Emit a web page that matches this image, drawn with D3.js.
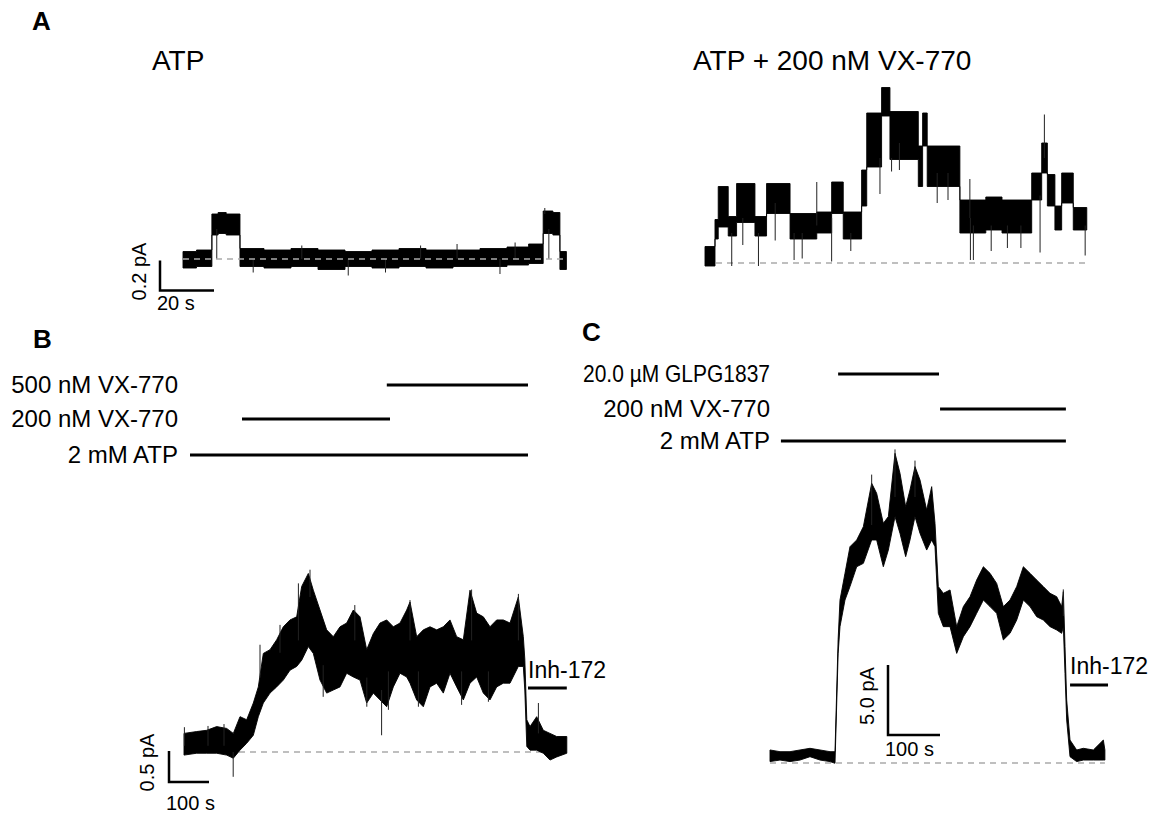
<!DOCTYPE html>
<html lang="en">
<head>
<meta charset="UTF-8">
<title>Single channel and macroscopic CFTR traces</title>
<script src="https://cdn.jsdelivr.net/npm/d3@7/dist/d3.min.js"></script>
<style>
  body { margin: 0; background: #fff; }
  text { font-family: "Liberation Sans", Arial, sans-serif; fill: #000; }
</style>
</head>
<body>
<svg id="fig" width="1162" height="815"></svg>
<script>

// ---- data: [time (s), low (pA), high (pA)] envelopes ----

// A, ATP alone
var atpTrace = [
  [0, -0.06, 0.05], [5, -0.05, 0.06], [10.7, 0.16, 0.30], [13, 0.17, 0.31], [16, 0.16, 0.30],
  [21.1, -0.05, 0.07], [30, -0.06, 0.06], [40, -0.05, 0.07], [50, -0.07, 0.06], [60, -0.05, 0.05],
  [70, -0.06, 0.06], [80, -0.05, 0.07], [90, -0.06, 0.06], [100, -0.05, 0.06], [110, -0.05, 0.07],
  [120, -0.04, 0.08], [128, -0.03, 0.10], [133.4, 0.17, 0.32], [137, 0.16, 0.31],
  [139.6, -0.07, 0.05], [142, -0.07, 0.05]
];
var atpSpikes = [[12.5, 0.2, 0.0], [44, 0.0, 0.09], [61.2, 0.0, -0.11], [101.5, 0.0, 0.10],
  [117.4, 0.0, -0.10], [135.5, 0.2, 0.0], [134, 0.3, 0.34], [26, 0.0, -0.09], [75, 0.0, -0.09],
  [88, 0.0, 0.09], [123, 0.0, 0.11]];

// A, ATP + 200 nM VX-770
var vxTrace = [
  [0, -0.02, 0.11], [3.7, 0.16, 0.29], [4.9, 0.24, 0.51], [8.6, 0.18, 0.31], [11.7, 0.27, 0.53],
  [18.5, 0.18, 0.31], [22.8, 0.33, 0.53], [31.5, 0.16, 0.33], [41.4, 0.20, 0.34], [46.9, 0.33, 0.54],
  [51.2, 0.16, 0.34], [58.0, 0.38, 0.62], [59.9, 0.64, 1.00], [65.4, 0.98, 1.17], [68.5, 0.69, 1.01],
  [79.0, 0.51, 0.78], [80.6, 0.78, 1.00], [82.3, 0.51, 0.78], [94.4, 0.20, 0.42], [104, 0.22, 0.44],
  [110, 0.20, 0.42], [121, 0.42, 0.60], [124.7, 0.60, 0.80], [126.8, 0.38, 0.59], [129.6, 0.22, 0.38],
  [132.1, 0.40, 0.60], [136.4, 0.22, 0.37], [141.4, 0.22, 0.37]
];
var vxSpikes = [[9.9, 0.2, -0.02], [19.8, 0.2, -0.02], [33, 0.2, 0.02], [41.4, 0.25, 0.54],
  [46.9, 0.3, 0.01], [64.8, 0.7, 0.46], [69.1, 0.7, 0.61], [72, 0.8, 0.62], [98.1, 0.3, 0.56],
  [98.3, 0.3, 0.02], [99.4, 0.25, 0.02], [106, 0.25, 0.08], [124.1, 0.45, 0.07],
  [125.7, 0.7, 0.99], [140.8, 0.25, 0.05], [14, 0.3, 0.12], [26, 0.4, 0.15], [36, 0.2, 0.03],
  [54, 0.2, 0.08], [86, 0.6, 0.40], [90, 0.6, 0.42], [112, 0.25, 0.10], [117, 0.25, 0.10]];

// B, 200 / 500 nM VX-770
var bTrace = [
  [0, -0.05, 0.30], [31.7, -0.02, 0.33], [56.7, -0.02, 0.35], [81.7, -0.02, 0.41], [106.7, -0.05, 0.38],
  [123.3, -0.10, 0.30], [140, 0.03, 0.57], [156.7, 0.14, 0.52], [173.3, 0.27, 0.79], [185.8, 0.57, 1.05],
  [198.3, 0.79, 1.59], [215, 0.95, 1.65], [231.7, 1.05, 1.81], [248.3, 1.16, 2.02], [265, 1.32, 2.13],
  [281.7, 1.38, 2.18], [294.2, 1.48, 2.67], [310.8, 1.70, 2.88], [323.3, 1.59, 2.61], [340, 1.16, 2.29],
  [356.7, 0.95, 1.97], [373.3, 1.00, 1.86], [390, 1.05, 2.02], [406.7, 1.27, 2.08], [423.3, 1.21, 2.29],
  [440, 1.16, 2.18], [456.7, 0.79, 1.65], [473.3, 0.95, 1.91], [490, 0.84, 2.08], [506.7, 0.73, 2.13],
  [523.3, 1.05, 2.02], [540, 1.27, 2.08], [556.7, 1.21, 2.29], [565, 1.11, 2.42], [581.7, 0.84, 1.86],
  [598.3, 0.73, 1.97], [615, 1.05, 2.02], [631.7, 1.11, 1.97], [648.3, 0.95, 2.02], [665, 1.27, 2.13],
  [681.7, 1.05, 1.86], [698.3, 0.84, 1.81], [715, 1.11, 2.61], [731.7, 1.21, 2.24], [748.3, 0.95, 2.18],
  [765, 0.84, 2.02], [781.7, 1.05, 2.13], [798.3, 1.11, 2.13], [815, 1.11, 2.08], [835.8, 1.38, 2.50],
  [848.3, 1.38, 1.86], [852, 1.00, 1.50], [857, 0.09, 0.52], [865, 0.03, 0.41], [881.7, 0.03, 0.57],
  [898.3, -0.02, 0.35], [915, -0.13, 0.30], [931.7, -0.08, 0.25], [957, -0.02, 0.25]
];
var bSpikes = [[123, 0.0, -0.40], [315, 2.5, 2.94], [494, 1.0, 0.27], [886, 0.3, 0.79], [1, 0.1, 0.40],
  [190, 1.2, 1.73], [240, 1.6, 2.05], [286, 1.8, 2.72], [427, 1.8, 2.37], [565, 1.8, 2.45],
  [719, 1.8, 2.62], [836, 1.8, 2.55], [348, 1.4, 0.89], [457, 1.2, 0.73], [511, 1.3, 0.68],
  [586, 1.3, 0.73], [694, 1.3, 0.76], [761, 1.3, 0.81], [60, 0.1, 0.42], [100, 0.1, 0.45]];

// C, GLPG1837 then VX-770
var cTrace = [
  [0, 0.10, 0.93], [19.2, 0.21, 0.81], [38.5, 0.10, 0.81], [57.7, 0.21, 0.93], [76.9, 0.45, 1.05],
  [96.2, 0.21, 0.93], [115.4, 0.10, 0.81], [125, -0.02, 0.81], [131, 7.8, 8.8], [134.6, 9.74, 11.64],
  [144.2, 11.64, 13.55], [153.8, 12.6, 15.45], [166.7, 14.02, 15.93], [179.5, 14.26, 16.88],
  [195.5, 15.93, 19.98], [205.1, 15.93, 19.26], [217.9, 14.02, 17.12], [227.6, 15.21, 17.6],
  [240.4, 17.6, 22.12], [250, 16.4, 20.69], [260.9, 14.74, 18.31], [269.2, 15.93, 19.5],
  [278.8, 17.6, 21.17], [288.5, 16.4, 20.21], [301.3, 15.21, 18.07], [310.9, 15.93, 19.74],
  [317.3, 15.45, 17.12], [323.7, 10.69, 12.6], [333.3, 9.74, 12.12], [346.2, 9.74, 12.36],
  [359, 7.83, 9.74], [371.8, 9.02, 11.17], [384.6, 9.74, 11.88], [397.4, 10.69, 13.07],
  [410.3, 11.64, 14.02], [423.1, 11.17, 13.55], [435.9, 10.69, 12.83], [448.7, 8.79, 11.17],
  [461.5, 9.26, 11.64], [474.4, 10.21, 12.6], [487.2, 11.64, 14.02], [500, 11.17, 13.55],
  [512.8, 10.45, 13.07], [525.6, 10.21, 12.6], [538.5, 9.74, 12.12], [551.3, 9.5, 11.88],
  [560.9, 9.26, 11.17], [564.1, 9.74, 12.24], [567.3, 6.4, 8.31], [570.5, 3.07, 4.5],
  [576.9, 0.45, 1.64], [589.7, 0.10, 0.93], [602.6, 0.21, 1.05], [621.8, 0.21, 0.93],
  [641, 0.21, 1.64], [644, 0.21, 0.93]
];
var cSpikes = [[564, 10.5, 12.4], [240.4, 19, 22.4], [195.5, 17, 20.6], [278.8, 19, 21.6]];

// drug application bars: label, start (s), end (s)
var bBars = [
  { label: "500 nM VX-770", start: 507, end: 860 },
  { label: "200 nM VX-770", start: 145, end: 515 },
  { label: "2 mM ATP", start: 15, end: 860 }
];
var cBars = [
  { label: "20.0 \u00b5M GLPG1837", start: 131, end: 325 },
  { label: "200 nM VX-770", start: 327, end: 569 },
  { label: "2 mM ATP", start: 21, end: 569 }
];
var bInh = { label: "Inh-172", start: 860, end: 957 };
var cInh = { label: "Inh-172", start: 577, end: 650 };

// ---- scales ----
var xA1 = d3.scaleLinear().domain([0, 142]).range([183, 566.4]);
var xA2 = d3.scaleLinear().domain([0, 142]).range([705, 1088.4]);
var yA1 = d3.scaleLinear().domain([0, 0.2]).range([259, 229]);
var yA2 = d3.scaleLinear().domain([0, 0.2]).range([263, 233]);
var xB = d3.scaleLinear().domain([0, 957.5]).range([184, 567]);
var yB = d3.scaleLinear().domain([0, 0.5]).range([752, 721]);
var xC = d3.scaleLinear().domain([0, 644]).range([770, 1104.9]);
var yC = d3.scaleLinear().domain([0, 5]).range([763, 693]);

var svg = d3.select("#fig");

function dashed(g, x, y) {
  g.append("line")
    .attr("x1", x.range()[0]).attr("x2", x.range()[1])
    .attr("y1", y(0)).attr("y2", y(0))
    .attr("stroke", "#aaa").attr("stroke-width", 1.3)
    .attr("stroke-dasharray", "6,5");
}

function drawTrace(data, spikes, x, y, step, dashOnTop) {
  var g = svg.append("g");
  if (!dashOnTop) dashed(g, x, y);
  var area = d3.area()
    .x(function(d) { return x(d[0]); })
    .y0(function(d) { return y(d[1]); })
    .y1(function(d) { return y(d[2]); });
  if (step) area.curve(d3.curveStepAfter);
  g.append("path").datum(data)
    .attr("d", area)
    .attr("fill", "#000").attr("stroke", "#000")
    .attr("stroke-width", 0.9).attr("stroke-linejoin", "round");
  g.selectAll(".spike").data(spikes).enter().append("line")
    .attr("x1", function(d) { return x(d[0]); })
    .attr("x2", function(d) { return x(d[0]); })
    .attr("y1", function(d) { return y(d[1]); })
    .attr("y2", function(d) { return y(d[2]); })
    .attr("stroke", "#222").attr("stroke-width", 1);
  if (dashOnTop) dashed(g, x, y);
}

drawTrace(atpTrace, atpSpikes, xA1, yA1, true, true);
drawTrace(vxTrace, vxSpikes, xA2, yA2, true, false);
drawTrace(bTrace, bSpikes, xB, yB, false, false);
drawTrace(cTrace, cSpikes, xC, yC, false, false);

// scale bars: corner position, lengths from the scales
function scaleBar(cx, cy, x, y, dt, di, tLabel, iLabel, iLabelX, tLabelY) {
  var g = svg.append("g");
  var w = x(dt) - x(0), h = y(0) - y(di);
  g.append("path")
    .attr("d", "M" + cx + "," + (cy - h) + "V" + cy + "H" + (cx + w))
    .attr("fill", "none").attr("stroke", "#000").attr("stroke-width", 2.5);
  g.append("text").attr("x", cx - 3).attr("y", tLabelY)
    .attr("font-size", 20).text(tLabel);
  g.append("text")
    .attr("transform", "translate(" + iLabelX + "," + (cy - h / 2 - 4) + ") rotate(-90)")
    .attr("text-anchor", "middle").attr("font-size", 20).text(iLabel);
}
scaleBar(160, 290.5, xA1, yA1, 20, 0.2, "20 s", "0.2 pA", 146, 310);
scaleBar(169, 782, xB, yB, 100, 0.5, "100 s", "0.5 pA", 154, 810);
scaleBar(888, 735, xC, yC, 100, 5, "100 s", "5.0 pA", 874, 756);

// drug bars; labels that would run past the panel's left edge are squeezed
function drugBars(bars, x, rows, labelX, leftEdge) {
  var g = svg.append("g");
  g.selectAll("line").data(bars).enter().append("line")
    .attr("x1", function(d) { return x(d.start); })
    .attr("x2", function(d) { return x(d.end); })
    .attr("y1", function(d, i) { return rows[i]; })
    .attr("y2", function(d, i) { return rows[i]; })
    .attr("stroke", "#000").attr("stroke-width", 3);
  g.selectAll("text").data(bars).enter().append("text")
    .attr("x", labelX)
    .attr("y", function(d, i) { return rows[i] + 8; })
    .attr("text-anchor", "end").attr("font-size", 24)
    .text(function(d) { return d.label; })
    .each(function() {
      var room = labelX - leftEdge;
      if (this.getComputedTextLength() > room) {
        d3.select(this).attr("textLength", room).attr("lengthAdjust", "spacingAndGlyphs");
      }
    });
}
drugBars(bBars, xB, [385, 419, 455], 178, 10);
drugBars(cBars, xC, [374, 409, 441], 770, 583);

function inhBar(d, x, lineY, textY) {
  svg.append("line")
    .attr("x1", x(d.start)).attr("x2", x(d.end))
    .attr("y1", lineY).attr("y2", lineY)
    .attr("stroke", "#000").attr("stroke-width", 3);
  svg.append("text").attr("x", x(d.start)).attr("y", textY)
    .attr("font-size", 23).text(d.label);
}
inhBar(bInh, xB, 688, 678);
inhBar(cInh, xC, 685, 674);

// titles and panel letters
svg.append("text").attr("x", 152).attr("y", 70).attr("font-size", 28).text("ATP");
svg.append("text").attr("x", 693).attr("y", 70).attr("font-size", 28).text("ATP + 200 nM VX-770");
svg.append("text").attr("x", 32).attr("y", 30).attr("font-size", 26).attr("font-weight", "bold").text("A");
svg.append("text").attr("x", 33).attr("y", 348).attr("font-size", 26).attr("font-weight", "bold").text("B");
svg.append("text").attr("x", 582).attr("y", 341).attr("font-size", 26).attr("font-weight", "bold").text("C");

</script>
</body>
</html>
